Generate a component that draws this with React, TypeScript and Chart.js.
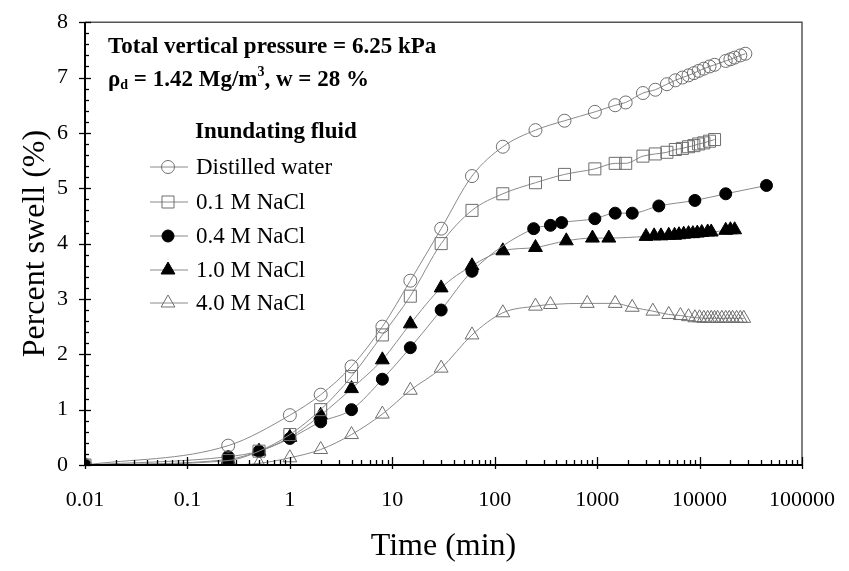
import React, { useEffect, useRef } from "react";
import { Chart, registerables } from "chart.js";

Chart.register(...registerables);

const FONT = '"Liberation Serif", "Times New Roman", serif';

// ---- data ----
const timeDW = [0.01, 0.25, 1, 2, 4, 8, 15, 30, 60, 120, 250, 480, 950, 1500, 1900, 2800, 3700, 4800, 5800, 6800, 7800, 8800, 9800, 11000, 12500, 14000, 18000, 20000, 22000, 25000, 28000];
const swellDW = [0, 0.35, 0.9, 1.27, 1.78, 2.5, 3.33, 4.27, 5.22, 5.75, 6.05, 6.22, 6.38, 6.5, 6.55, 6.72, 6.78, 6.88, 6.95, 7.0, 7.04, 7.08, 7.12, 7.16, 7.2, 7.23, 7.3, 7.33, 7.36, 7.4, 7.43];

const time01 = [0.01, 0.25, 0.5, 1, 2, 4, 8, 15, 30, 60, 120, 250, 480, 950, 1500, 1900, 2800, 3700, 4800, 5800, 6800, 7800, 8800, 9800, 11000, 12500, 14000];
const swell01 = [0, 0.08, 0.25, 0.55, 1.0, 1.6, 2.35, 3.05, 4.0, 4.6, 4.9, 5.1, 5.25, 5.35, 5.45, 5.45, 5.58, 5.62, 5.65, 5.7, 5.72, 5.75, 5.77, 5.8, 5.82, 5.85, 5.88];

const time04 = [0.01, 0.25, 0.5, 1, 2, 4, 8, 15, 30, 60, 240, 350, 450, 950, 1500, 2200, 4000, 9000, 18000, 45000];
const swell04 = [0, 0.15, 0.25, 0.48, 0.78, 1.0, 1.55, 2.12, 2.8, 3.5, 4.27, 4.33, 4.38, 4.45, 4.55, 4.55, 4.68, 4.78, 4.9, 5.05];

const time10 = [0.01, 0.25, 0.5, 1, 2, 4, 8, 15, 30, 60, 120, 250, 500, 900, 1300, 3000, 3600, 4200, 5000, 5700, 6300, 7000, 7800, 8600, 9500, 10500, 12000, 13000, 18000, 20000, 22000];
const swell10 = [0, 0.1, 0.25, 0.5, 0.9, 1.38, 1.9, 2.55, 3.2, 3.6, 3.87, 3.93, 4.05, 4.1, 4.1, 4.13, 4.14, 4.14, 4.15, 4.15, 4.16, 4.17, 4.18, 4.18, 4.19, 4.2, 4.21, 4.21, 4.24, 4.25, 4.25];

const time40 = [0.01, 0.25, 0.5, 1, 2, 4, 8, 15, 30, 60, 120, 250, 350, 800, 1500, 2200, 3500, 5000, 6500, 7800, 9000, 10000, 11000, 12000, 13000, 14000, 15000, 16500, 18000, 19500, 21000, 23000, 25000, 27000];
const swell40 = [0, 0, 0.03, 0.13, 0.28, 0.55, 0.92, 1.35, 1.75, 2.35, 2.75, 2.87, 2.9, 2.92, 2.92, 2.85, 2.78, 2.72, 2.7, 2.68, 2.66, 2.66, 2.65, 2.65, 2.65, 2.65, 2.65, 2.65, 2.65, 2.65, 2.65, 2.65, 2.65, 2.65];

const seriesNames = ["Distilled water", "0.1 M NaCl", "0.4 M NaCl", "1.0 M NaCl", "4.0 M NaCl"];
const xTickValues = [0.01, 0.1, 1, 10, 100, 1000, 10000, 100000];
const xTickLabels = ["0.01", "0.1", "1", "10", "100", "1000", "10000", "100000"];
const yTickValues = [0, 1, 2, 3, 4, 5, 6, 7, 8];

const LINE = "#8a8a8a";
const OPEN = "#6e6e6e";

type Style = { shape: string; r: number; fill: string; stroke: string };
const styles: Style[] = [
  { shape: "circle", r: 6.5, fill: "rgba(255,255,255,0)", stroke: OPEN },
  { shape: "rect", r: 8.5, fill: "rgba(255,255,255,0)", stroke: OPEN },
  { shape: "circle", r: 6, fill: "#000", stroke: "#000" },
  { shape: "triangle", r: 8, fill: "#000", stroke: "#000" },
  { shape: "triangle", r: 8, fill: "rgba(255,255,255,0)", stroke: OPEN },
];

function drawMarker(ctx: CanvasRenderingContext2D, s: Style, x: number, y: number) {
  ctx.beginPath();
  if (s.shape === "circle") {
    ctx.arc(x, y, s.r, 0, Math.PI * 2);
  } else if (s.shape === "rect") {
    const h = s.r * Math.SQRT1_2;
    ctx.rect(x - h, y - h, 2 * h, 2 * h);
  } else {
    let a = 0;
    ctx.moveTo(x + Math.sin(a) * s.r, y - Math.cos(a) * s.r);
    a += (2 * Math.PI) / 3;
    ctx.lineTo(x + Math.sin(a) * s.r, y - Math.cos(a) * s.r);
    a += (2 * Math.PI) / 3;
    ctx.lineTo(x + Math.sin(a) * s.r, y - Math.cos(a) * s.r);
    ctx.closePath();
  }
  ctx.fillStyle = s.fill;
  ctx.fill();
  ctx.strokeStyle = s.stroke;
  ctx.lineWidth = 1;
  ctx.stroke();
}

const framePlugin = {
  id: "framePlugin",
  afterDraw(chart: any) {
    const ctx: CanvasRenderingContext2D = chart.ctx;
    const { left, right, top, bottom } = chart.chartArea;
    const xs = chart.scales.x;
    const ys = chart.scales.y;
    ctx.save();
    // frame
    ctx.strokeStyle = "#555";
    ctx.lineWidth = 1.5;
    ctx.beginPath();
    ctx.moveTo(left, top);
    ctx.lineTo(right, top);
    ctx.lineTo(right, bottom);
    ctx.stroke();
    ctx.strokeStyle = "#000";
    ctx.lineWidth = 2;
    ctx.beginPath();
    ctx.moveTo(left, top);
    ctx.lineTo(left, bottom);
    ctx.lineTo(right, bottom);
    ctx.stroke();
    // y ticks
    ctx.lineWidth = 1.3;
    for (let v = 0; v <= 8.0001; v += 0.2) {
      const py = Math.round(ys.getPixelForValue(v)) + 0.5;
      const major = Math.abs(v - Math.round(v)) < 1e-6;
      ctx.beginPath();
      ctx.moveTo(major ? left - 6 : left, py);
      ctx.lineTo(left + (major ? 6 : 4), py);
      ctx.stroke();
    }
    // x ticks
    for (let k = -2; k <= 5; k++) {
      for (let m = 1; m <= 9; m++) {
        const val = m * Math.pow(10, k);
        if (val > 100000) break;
        const px = Math.round(xs.getPixelForValue(val)) + 0.5;
        ctx.beginPath();
        ctx.moveTo(px, bottom + (m === 1 ? 4 : 0));
        ctx.lineTo(px, bottom - (m === 1 ? 8 : 5));
        ctx.stroke();
      }
    }
    // annotation
    ctx.fillStyle = "#000";
    ctx.textBaseline = "alphabetic";
    ctx.textAlign = "left";
    const big = `bold 23px ${FONT}`;
    const small = `bold 14px ${FONT}`;
    ctx.font = big;
    ctx.fillText("Total vertical pressure = 6.25 kPa", 108, 53);
    let x = 108;
    const by = 86;
    const put = (t: string, f: string, dy: number) => {
      ctx.font = f;
      ctx.fillText(t, x, by + dy);
      x += ctx.measureText(t).width;
    };
    put("ρ", big, 0);
    put("d", small, 3);
    put(" = 1.42 Mg/m", big, 0);
    put("3", small, -10);
    put(", w = 28 %", big, 0);
    // legend
    ctx.font = big;
    ctx.fillText("Inundating fluid", 195, 138);
    const rows = [167, 202, 236, 270, 303];
    ctx.textBaseline = "middle";
    seriesNames.forEach((name, i) => {
      const ry = rows[i];
      ctx.strokeStyle = LINE;
      ctx.lineWidth = 1;
      ctx.beginPath();
      ctx.moveTo(150, ry);
      ctx.lineTo(188, ry);
      ctx.stroke();
      drawMarker(ctx, styles[i], 168, ry);
      ctx.fillStyle = "#000";
      ctx.font = `23px ${FONT}`;
      ctx.fillText(name, 196, ry + 1);
    });
    ctx.restore();
  },
};

const toPts = (t: number[], v: number[]) => t.map((tt, i) => ({ x: tt, y: v[i] }));

export default function App() {
  const ref = useRef<HTMLCanvasElement>(null);
  useEffect(() => {
    if (!ref.current) return;
    const sets = [
      toPts(timeDW, swellDW),
      toPts(time01, swell01),
      toPts(time04, swell04),
      toPts(time10, swell10),
      toPts(time40, swell40),
    ];
    const chart = new Chart(ref.current, {
      type: "scatter",
      data: {
        datasets: sets.map((d, i) => ({
          label: seriesNames[i],
          data: d,
          showLine: true,
          borderColor: LINE,
          borderWidth: 1,
          cubicInterpolationMode: "monotone",
          pointStyle: styles[i].shape,
          pointRadius: styles[i].r,
          pointBackgroundColor: styles[i].fill,
          pointBorderColor: styles[i].stroke,
          pointBorderWidth: 1,
        })),
      },
      options: {
        animation: false,
        responsive: false,
        devicePixelRatio: 1,
        layout: { padding: { top: 20, right: 46, left: 0, bottom: 0 } },
        plugins: { legend: { display: false }, tooltip: { enabled: false } },
        scales: {
          x: {
            type: "logarithmic",
            min: 0.01,
            max: 100000,
            afterBuildTicks: (s: any) => {
              s.ticks = xTickValues.map((v) => ({ value: v }));
            },
            afterFit: (s: any) => {
              s.height = 106;
            },
            ticks: {
              callback: (_v: any, i: number) => xTickLabels[i],
              font: { family: FONT, size: 22 },
              color: "#000",
              padding: 14,
              maxRotation: 0,
              autoSkip: false,
            },
            grid: { display: false },
            border: { display: false },
            title: {
              display: true,
              text: "Time (min)",
              font: { family: FONT, size: 32 },
              color: "#000",
              padding: { top: 0, bottom: 5 },
            },
          },
          y: {
            type: "linear",
            min: 0,
            max: 8,
            afterBuildTicks: (s: any) => {
              s.ticks = yTickValues.map((v) => ({ value: v }));
            },
            afterFit: (s: any) => {
              s.width = 85;
            },
            ticks: {
              font: { family: FONT, size: 22 },
              color: "#000",
              padding: 9,
            },
            grid: { display: false },
            border: { display: false },
            title: {
              display: true,
              text: "Percent swell (%)",
              font: { family: FONT, size: 32 },
              color: "#000",
              padding: { top: 16, bottom: 0 },
            },
          },
        },
      },
      plugins: [framePlugin],
    } as any);
    return () => chart.destroy();
  }, []);
  return (
    <div style={{ position: "fixed", left: 0, top: 0, width: 849, height: 571, background: "#fff" }}>
      <canvas ref={ref} width={849} height={571} />
    </div>
  );
}
